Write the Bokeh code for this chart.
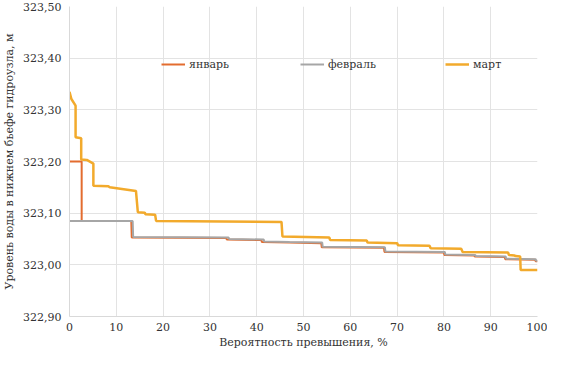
from bokeh.plotting import figure
from bokeh.models import Range1d, FixedTicker, CustomJSTickFormatter, Legend, LegendItem
from bokeh.embed import file_html
from bokeh.resources import INLINE

# ---- data ----
jan_x = [0, 2.6, 2.6, 13.2, 13.3, 33.5, 33.6, 41.0, 41.1, 47.0, 53.8, 53.9, 67.2, 67.3,
         80.0, 80.1, 86.5, 86.6, 93.0, 93.1, 99.5, 99.6, 100]
jan_y = [323.200, 323.200, 323.085, 323.085, 323.053, 323.052, 323.049, 323.048, 323.044,
         323.043, 323.042, 323.034, 323.033, 323.025, 323.024, 323.019, 323.018, 323.016,
         323.015, 323.011, 323.010, 323.007, 323.007]

feb_x = [0, 13.5, 13.6, 34.0, 34.1, 41.5, 41.6, 47.0, 54.0, 54.1, 67.4, 67.5,
         80.2, 80.3, 86.7, 86.8, 93.2, 93.3, 99.6, 99.7, 100]
feb_y = [323.085, 323.085, 323.054, 323.053, 323.050, 323.049, 323.045, 323.044, 323.043,
         323.035, 323.034, 323.026, 323.025, 323.020, 323.019, 323.017, 323.016, 323.012,
         323.011, 323.008, 323.008]

mar_x = [0, 0.4, 1.3, 1.3, 2.5, 2.5, 3.7, 5.1, 5.1, 8.3, 8.6, 14.2, 14.6, 16.1, 16.2,
         18.3, 18.5, 45.3, 45.5, 55.5, 55.7, 63.5, 63.7, 70.0, 70.2, 76.9, 77.2, 83.7,
         84.0, 93.7, 93.9, 95.1, 95.3, 96.3, 96.4, 100]
mar_y = [323.335, 323.321, 323.308, 323.247, 323.245, 323.204, 323.203, 323.196, 323.153,
         323.152, 323.150, 323.143, 323.102, 323.101, 323.098, 323.097, 323.085, 323.083,
         323.055, 323.053, 323.048, 323.047, 323.043, 323.042, 323.038, 323.037, 323.032,
         323.031, 323.025, 323.024, 323.019, 323.018, 323.017, 323.016, 322.990, 322.990]

series_names = ["январь", "февраль", "март"]
series_colors = ["#E36C2F", "#A6A6A6", "#F2AA2C"]

y_ticks = [322.9, 323.0, 323.1, 323.2, 323.3, 323.4, 323.5]
x_ticks = [0, 10, 20, 30, 40, 50, 60, 70, 80, 90, 100]

FONT = "DejaVu Serif"
TXT = "#333333"

p = figure(width=547, height=351, output_backend="svg", toolbar_location=None,
           x_range=Range1d(0, 100), y_range=Range1d(322.9, 323.5),
           min_border_left=60, min_border_right=10, min_border_top=6, min_border_bottom=0)
p.outline_line_color = None

r_jan = p.line(jan_x, jan_y, line_color=series_colors[0], line_width=2)
r_feb = p.line(feb_x, feb_y, line_color=series_colors[1], line_width=2)
r_mar = p.line(mar_x, mar_y, line_color=series_colors[2], line_width=2.5)

p.xaxis.ticker = FixedTicker(ticks=x_ticks)
p.yaxis.ticker = FixedTicker(ticks=y_ticks)
p.yaxis.formatter = CustomJSTickFormatter(code="return tick.toFixed(2).replace('.', ',');")

p.xaxis.axis_label = "Вероятность превышения, %"
p.yaxis.axis_label = "Уровень воды в нижнем бьефе гидроузла, м"
for ax in (p.xaxis[0], p.yaxis[0]):
    ax.axis_line_color = "#D9D9D9"
    ax.major_tick_line_color = None
    ax.minor_tick_line_color = None
    ax.major_tick_out = 0
    ax.major_tick_in = 0
    ax.major_label_text_font = FONT
    ax.major_label_text_font_size = "11px"
    ax.major_label_text_color = TXT
    ax.axis_label_text_font = FONT
    ax.axis_label_text_font_size = "11px"
    ax.axis_label_text_font_style = "normal"
    ax.axis_label_text_color = TXT
p.xaxis.major_label_standoff = 6
p.xaxis.axis_label_standoff = 2
p.yaxis.major_label_standoff = 8
p.yaxis.axis_label_standoff = 4

p.xgrid.grid_line_color = "#E3E3E3"
p.ygrid.grid_line_color = "#E3E3E3"

renderers = [r_jan, r_feb, r_mar]
leg_x = [92, 231, 376]
for name, r, lx in zip(series_names, renderers, leg_x):
    lg = Legend(items=[LegendItem(label=name, renderers=[r])], location=(lx, 245),
                orientation="horizontal", padding=0, margin=0, spacing=0,
                glyph_width=24, glyph_height=14, label_standoff=4,
                background_fill_alpha=0, border_line_alpha=0,
                label_text_font=FONT, label_text_font_size="11px", label_text_color=TXT)
    p.add_layout(lg, "center")

open("out.html", "w").write(file_html(p, INLINE))
